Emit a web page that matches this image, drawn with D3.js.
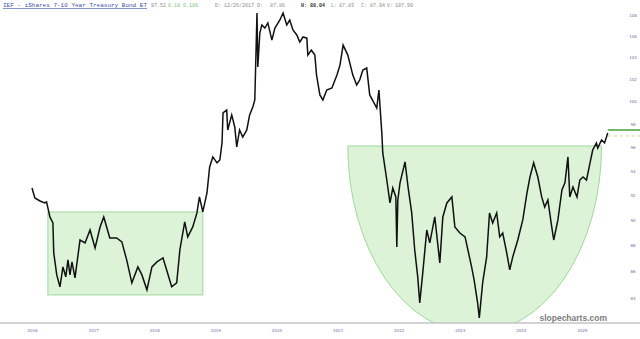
<!DOCTYPE html>
<html>
<head>
<meta charset="utf-8">
<script src="https://d3js.org/d3.v7.min.js"></script>
<style>
  body { margin: 0; background: #fff; }
  svg { display: block; }
</style>
</head>
<body>
<div id="chart"></div>
<script>
// IEF closes
const dates = [
  "2016-01-01","2016-01-18","2016-02-18","2016-03-17","2016-03-28","2016-04-17","2016-05-05","2016-05-10",
  "2016-05-28","2016-06-16","2016-07-04","2016-07-21","2016-08-03","2016-08-15","2016-08-27","2016-09-14",
  "2016-10-14","2016-11-13","2016-12-13","2017-01-12","2017-02-11","2017-03-05","2017-04-10","2017-05-21",
  "2017-06-21","2017-07-20","2017-08-20","2017-09-25","2017-10-19","2017-11-18","2017-12-18","2018-01-17",
  "2018-02-22","2018-03-16","2018-04-15","2018-05-15","2018-06-03","2018-07-02","2018-07-20","2018-08-19",
  "2018-09-13","2018-09-28","2018-10-18","2018-11-12","2018-11-28","2018-12-17","2019-01-11","2019-01-28",
  "2019-02-10","2019-02-16","2019-03-10","2019-03-16","2019-04-09","2019-04-27","2019-05-09","2019-05-26",
  "2019-06-14","2019-07-08","2019-07-25","2019-08-13","2019-08-25","2019-09-07","2019-09-12","2019-09-24",
  "2019-10-06","2019-10-24","2019-11-11","2019-12-05","2019-12-23","2020-01-22","2020-02-10","2020-03-03",
  "2020-03-21","2020-04-09","2020-05-02","2020-05-20","2020-06-08","2020-07-01","2020-07-07","2020-07-28",
  "2020-08-18","2020-08-28","2020-09-17","2020-10-05","2020-10-28","2020-11-28","2020-12-28","2021-01-15",
  "2021-02-03","2021-03-03","2021-04-02","2021-04-25","2021-05-13","2021-06-01","2021-06-24","2021-07-12",
  "2021-07-28","2021-08-23","2021-09-05","2021-09-23","2021-09-28","2021-10-22","2021-11-10","2021-11-27",
  "2021-12-15","2021-12-21","2021-12-27","2022-01-09","2022-02-08","2022-02-26","2022-03-20","2022-04-07",
  "2022-04-25","2022-05-07","2022-05-25","2022-06-18","2022-07-06","2022-08-05","2022-09-04","2022-09-22",
  "2022-10-16","2022-11-15","2022-12-03","2023-01-02","2023-02-02","2023-02-19","2023-03-13","2023-03-28",
  "2023-04-18","2023-04-28","2023-05-18","2023-06-11","2023-06-28","2023-07-17","2023-08-10","2023-08-28",
  "2023-09-15","2023-10-09","2023-10-27","2023-11-14","2023-12-14","2024-01-13","2024-02-07","2024-02-25",
  "2024-03-18","2024-04-12","2024-05-05","2024-05-23","2024-06-11","2024-07-04","2024-07-16","2024-08-10",
  "2024-09-03","2024-09-21","2024-10-09","2024-10-20","2024-11-08","2024-12-02","2024-12-19","2025-01-07",
  "2025-01-28","2025-02-18","2025-03-06","2025-03-28","2025-04-05","2025-04-28","2025-05-16","2025-06-04"
];
const closes = [
  92.62,91.80,91.56,91.40,91.48,90.27,89.79,87.43,
  85.74,84.84,86.35,85.59,86.89,85.74,86.74,85.52,
  88.44,88.21,89.23,87.82,89.47,90.27,88.60,88.60,
  88.29,86.89,85.14,86.35,85.74,84.61,86.35,86.74,
  87.04,86.12,84.84,85.14,87.66,89.87,88.68,89.47,
  90.59,91.89,90.67,92.21,94.37,95.21,94.71,94.96,
  96.40,99.00,99.27,97.52,98.83,97.78,96.06,97.52,
  96.91,97.52,98.83,99.53,100.15,108.19,103.12,106.28,
  107.05,106.75,107.24,105.62,106.75,107.52,108.19,107.05,
  107.52,106.57,106.10,105.43,105.91,105.80,104.22,104.68,
  104.22,102.39,100.60,100.15,101.04,101.22,102.39,103.30,
  105.15,104.22,102.39,101.49,101.94,102.84,103.03,100.60,
  100.15,99.44,101.04,97.09,95.55,93.28,91.40,92.62,
  91.89,87.90,91.64,93.04,94.79,92.71,90.59,87.66,
  85.59,83.64,85.90,89.23,88.21,90.27,86.66,90.27,
  91.40,91.89,89.47,88.99,88.68,87.66,86.35,85.37,
  83.64,82.53,85.14,87.12,90.59,89.79,90.59,88.68,
  88.99,87.43,86.12,87.12,88.44,90.03,92.21,93.53,
  94.71,93.53,91.89,91.07,91.64,89.47,88.44,90.03,
  92.46,93.04,95.21,91.89,92.71,91.89,93.28,93.53,
  93.28,94.71,95.80,96.40,95.97,96.66,96.40,97.26
];

// right axis ticks and bottom year labels
const yTicks = [108, 106, 104, 102, 100, 98, 96, 94, 92, 90, 88, 86, 84];
const yearLabels = ["2016","2017","2018","2019","2020","2021","2022","2023","2024","2025"];

// trading range box (2016-2018) and cup (2021-2025)
const boxDates = ["2016-04-05", "2018-10-18"];
const boxPrices = [90.67, 84.23];
const cupDates = ["2021-03-03", "2025-04-28"];
const cupPrices = [96.14, 81.43]; // rim, bottom
const lastPrice = 97.52;
const maPrice = 97.0;

const W = 640, H = 339;
const axisY = 323;
const parse = d3.timeParse("%Y-%m-%d");

const x = d3.scaleTime()
    .domain([parse("2016-01-01"), parse("2025-01-01")])
    .range([32, 582]);

const y = d3.scaleLog()
    .domain([84, 108])
    .range([298, 15]);

const data = dates.map((d, i) => ({date: parse(d), close: closes[i]}));

const svg = d3.select("#chart").append("svg")
    .attr("width", W)
    .attr("height", H);

svg.append("clipPath").attr("id", "plotClip")
  .append("rect").attr("x", 0).attr("y", 0).attr("width", W).attr("height", axisY);

const fillGreen = "#dcf3d8";
const strokeGreen = "#9fd89a";

// box
svg.append("rect")
    .attr("x", x(parse(boxDates[0])))
    .attr("y", y(boxPrices[0]))
    .attr("width", x(parse(boxDates[1])) - x(parse(boxDates[0])))
    .attr("height", y(boxPrices[1]) - y(boxPrices[0]))
    .attr("fill", fillGreen)
    .attr("stroke", strokeGreen)
    .attr("stroke-width", 1);

// cup: half ellipse hanging from the rim
const cx0 = x(parse(cupDates[0])), cx1 = x(parse(cupDates[1]));
const rimY = y(cupPrices[0]), botY = y(cupPrices[1]);
const rx = (cx1 - cx0) / 2, ry = botY - rimY;
svg.append("path")
    .attr("clip-path", "url(#plotClip)")
    .attr("d", `M${cx0},${rimY} A${rx},${ry} 0 0 0 ${cx1},${rimY} Z`)
    .attr("fill", fillGreen)
    .attr("stroke", strokeGreen)
    .attr("stroke-width", 1);

// price line
const line = d3.line()
    .x(d => x(d.date))
    .y(d => y(d.close));

svg.append("path")
    .datum(data)
    .attr("fill", "none")
    .attr("stroke", "#111")
    .attr("stroke-width", 1.5)
    .attr("d", line);

// last price / average markers on the right
const lastX = x(data[data.length - 1].date);
svg.append("line")
    .attr("x1", lastX).attr("x2", W)
    .attr("y1", y(lastPrice)).attr("y2", y(lastPrice))
    .attr("stroke", "#3fa33a").attr("stroke-width", 1.5);
svg.append("line")
    .attr("x1", lastX).attr("x2", W)
    .attr("y1", y(maPrice)).attr("y2", y(maPrice))
    .attr("stroke", "#c4dc8c").attr("stroke-width", 1)
    .attr("stroke-dasharray", "3,3");

// right axis labels
const yAxis = d3.axisRight(y)
    .tickValues(yTicks)
    .tickSize(0)
    .tickPadding(0)
    .tickFormat(d3.format("d"));
const gy = svg.append("g")
    .attr("transform", `translate(633,0)`)
    .call(yAxis);
gy.select(".domain").remove();
gy.selectAll("text")
    .attr("text-anchor", "middle")
    .attr("font-family", "DejaVu Sans, sans-serif")
    .attr("font-size", 4)
    .attr("fill", "#6b6ba6");

// bottom axis
svg.append("line")
    .attr("x1", 0).attr("x2", W)
    .attr("y1", axisY).attr("y2", axisY)
    .attr("stroke", "#c4c4c4").attr("stroke-width", 1.5);

const xAxis = d3.axisBottom(x)
    .tickValues(yearLabels.map(s => parse(s + "-01-01")))
    .tickSize(0)
    .tickPadding(0)
    .tickFormat(d3.timeFormat("%Y"));
const gx = svg.append("g")
    .attr("transform", `translate(0,${axisY + 6})`)
    .call(xAxis);
gx.select(".domain").remove();
gx.selectAll("text")
    .attr("font-family", "DejaVu Sans, sans-serif")
    .attr("font-size", 4)
    .attr("fill", "#6b6ba6");

// watermark
svg.append("text")
    .attr("x", 607)
    .attr("y", 321)
    .attr("text-anchor", "end")
    .attr("font-family", "Liberation Sans, Arial, sans-serif")
    .attr("font-weight", "bold")
    .attr("font-size", 8.5)
    .attr("fill", "#7d7d7d")
    .text("slopecharts.com");

// header
const header = svg.append("g")
    .attr("font-family", "Liberation Mono, monospace");
header.append("text")
    .attr("x", 3).attr("y", 7)
    .attr("font-size", 6)
    .attr("fill", "#3c4fa8")
    .attr("text-decoration", "underline")
    .text("IEF - iShares 7-10 Year Treasury Bond ET");

const stats = [
  {t: "97.52", x: 151, c: "#8a8a8a"},
  {t: "0.18", x: 168, c: "#7cc47a"},
  {t: "0.18%", x: 183, c: "#7cc47a"},
  {t: "D:", x: 215, c: "#8a8a8a"},
  {t: "12/26/2017", x: 224, c: "#8a8a8a"},
  {t: "O:", x: 257, c: "#8a8a8a"},
  {t: "87.86", x: 270, c: "#8a8a8a"},
  {t: "H:", x: 301, c: "#333", b: true},
  {t: "88.04", x: 310, c: "#333", b: true},
  {t: "L:", x: 331, c: "#8a8a8a"},
  {t: "87.83", x: 339, c: "#8a8a8a"},
  {t: "C:", x: 361, c: "#8a8a8a"},
  {t: "87.94", x: 370, c: "#8a8a8a"},
  {t: "V:", x: 387, c: "#8a8a8a"},
  {t: "107.99", x: 395, c: "#8a8a8a"}
];
header.selectAll(".stat")
  .data(stats)
  .join("text")
    .attr("class", "stat")
    .attr("x", d => d.x)
    .attr("y", 7)
    .attr("font-size", 5)
    .attr("font-weight", d => d.b ? "bold" : "normal")
    .attr("fill", d => d.c)
    .text(d => d.t);
</script>
</body>
</html>
